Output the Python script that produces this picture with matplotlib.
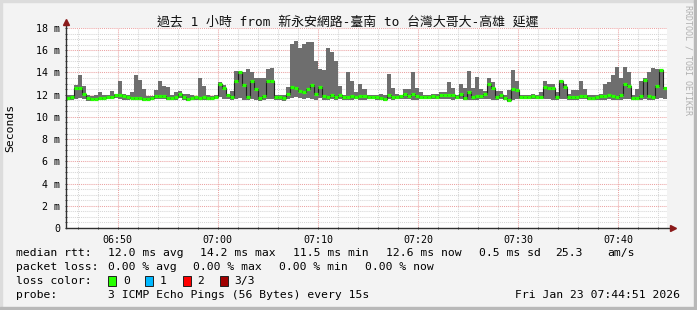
import numpy as np
import matplotlib
matplotlib.use('Agg')
import matplotlib.pyplot as plt
import matplotlib.dates as mdates
from matplotlib.patches import Rectangle
from matplotlib.ticker import MultipleLocator, FuncFormatter

# one sample every 24 s over the last hour, values in ms
start = np.datetime64('2026-01-23T06:44:51')
step = np.timedelta64(24, 's')

median = [11.7, 11.75, 12.6, 12.6, 12.1, 11.7, 11.6, 11.65, 11.7, 11.7,
          11.8, 11.8, 11.95, 12.0, 11.9, 11.75, 11.7, 11.7, 11.7, 11.65,
          11.65, 11.7, 11.9, 11.85, 11.85, 11.7, 11.7, 11.8, 12.1, 11.8,
          11.65, 11.7, 11.75, 11.7, 11.75, 11.7, 11.7, 11.75, 13.0, 12.6,
          12.0, 11.8, 13.2, 14.0, 12.9, 11.8, 13.2, 12.5, 11.7, 11.9,
          13.2, 13.2, 11.8, 11.75, 11.7, 12.1, 12.7, 12.6, 12.3, 12.2,
          12.5, 12.9, 12.1, 12.7, 11.9, 11.75, 12.0, 11.8, 12.0, 11.8,
          11.8, 11.9, 11.8, 11.9, 11.85, 11.8, 11.75, 11.75, 11.7, 11.6,
          11.95, 11.8, 11.75, 11.9, 12.1, 11.9, 12.1, 11.9, 11.8, 11.8,
          11.8, 11.9, 11.8, 11.95, 12.0, 11.95, 12.0, 11.8, 12.1, 11.7,
          12.2, 11.8, 11.9, 11.85, 12.1, 13.0, 12.6, 11.8, 11.95, 11.7,
          11.5, 12.5, 12.4, 11.8, 11.8, 11.8, 11.9, 11.8, 11.8, 12.7,
          12.6, 12.6, 11.8, 13.2, 12.7, 11.8, 11.75, 11.8, 11.9, 11.9,
          11.7, 11.7, 11.75, 11.85, 11.85, 11.95, 11.9, 11.8, 12.0, 13.0,
          12.8, 11.7, 11.7, 11.9, 13.3, 11.9, 11.8, 12.8, 14.2, 12.6]

smoke_lo = [11.5, 11.55, 11.6, 11.7, 11.6, 11.4, 11.4, 11.5, 11.5, 11.5,
            11.6, 11.6, 11.7, 11.6, 11.5, 11.5, 11.6, 11.5, 11.5, 11.4,
            11.5, 11.5, 11.6, 11.6, 11.6, 11.5, 11.5, 11.5, 11.7, 11.5,
            11.4, 11.5, 11.55, 11.5, 11.5, 11.55, 11.5, 11.6, 11.8, 11.6,
            11.6, 11.5, 11.6, 11.7, 11.5, 11.5, 11.6, 11.5, 11.4, 11.5,
            11.6, 11.6, 11.5, 11.5, 11.4, 11.6, 11.7, 11.8, 11.7, 11.6,
            11.7, 11.6, 11.5, 11.7, 11.5, 11.5, 11.6, 11.5, 11.6, 11.5,
            11.5, 11.5, 11.6, 11.5, 11.5, 11.6, 11.6, 11.5, 11.5, 11.4,
            11.6, 11.5, 11.6, 11.6, 11.6, 11.6, 11.5, 11.5, 11.6, 11.6,
            11.6, 11.6, 11.6, 11.6, 11.6, 11.6, 11.5, 11.6, 11.6, 11.5,
            11.5, 11.5, 11.5, 11.6, 11.6, 11.6, 11.5, 11.5, 11.6, 11.5,
            11.3, 11.5, 11.6, 11.6, 11.6, 11.6, 11.6, 11.6, 11.6, 11.6,
            11.6, 11.5, 11.5, 11.6, 11.6, 11.5, 11.5, 11.5, 11.6, 11.6,
            11.5, 11.5, 11.5, 11.5, 11.5, 11.6, 11.5, 11.5, 11.5, 11.6,
            11.6, 11.5, 11.5, 11.5, 11.6, 11.5, 11.5, 11.6, 11.7, 11.6]

smoke_hi = [12.0, 11.95, 12.9, 13.8, 12.8, 12.0, 11.9, 12.0, 12.2, 12.0,
            12.0, 12.3, 12.1, 13.2, 12.1, 12.0, 12.2, 13.8, 13.3, 12.5,
            11.9, 11.9, 12.4, 13.2, 12.8, 12.7, 12.0, 12.2, 12.3, 12.1,
            12.1, 12.0, 11.9, 13.5, 12.8, 12.0, 11.9, 12.0, 13.1, 12.9,
            12.1, 12.3, 14.1, 14.1, 14.0, 14.3, 14.0, 13.5, 13.5, 13.5,
            14.3, 14.4, 12.0, 12.0, 12.0, 12.7, 16.6, 16.8, 16.2, 16.6,
            16.7, 16.7, 15.0, 14.3, 14.2, 16.2, 15.8, 15.0, 12.8, 12.0,
            14.0, 13.2, 12.2, 13.0, 12.5, 12.0, 11.95, 12.0, 12.1, 12.0,
            13.9, 12.6, 12.1, 12.0, 12.5, 12.5, 14.0, 12.6, 12.2, 12.0,
            12.0, 12.1, 12.1, 12.2, 12.2, 13.1, 12.6, 12.0, 13.0, 12.6,
            14.1, 12.6, 13.6, 12.5, 12.3, 13.5, 13.1, 12.3, 12.3, 12.0,
            12.4, 14.2, 13.2, 12.0, 11.95, 12.0, 12.1, 12.0, 12.2, 13.2,
            13.0, 13.0, 12.2, 13.3, 13.0, 12.1, 12.4, 12.4, 13.2, 12.5,
            12.0, 12.0, 12.0, 12.1, 13.0, 13.1, 13.8, 14.5, 13.5, 14.5,
            14.0, 12.0, 12.5, 13.2, 13.5, 14.0, 14.4, 14.3, 14.3, 12.7]

loss_labels = ['0', '1', '2', '3/3']
loss_colors = ['#26ff00', '#00b8ff', '#ff0000', '#a00000']

title = '過去 1 小時 from 新永安網路-臺南 to 台灣大哥大-高雄 延遲'
rtt_stats = ['12.0 ms avg', '14.2 ms max', '11.5 ms min', '12.6 ms now', '0.5 ms sd', '25.3', 'am/s']
loss_stats = ['0.00 % avg', '0.00 % max', '0.00 % min', '0.00 % now']
probe_text = '3 ICMP Echo Pings (56 Bytes) every 15s'
stamp = 'Fri Jan 23 07:44:51 2026'

plt.rcParams['font.family'] = ['DejaVu Sans Mono', 'Noto Sans CJK TC']

W, H = 697, 310
fig = plt.figure(figsize=(W / 100, H / 100), dpi=100, facecolor='#f3f3f3')


def px(x, y):
    # pixel position (from top-left) -> figure fraction
    return x / W, 1 - y / H


# frame shading like rrdtool
fig.add_artist(Rectangle((0, 0), 2 / W, 1, transform=fig.transFigure, color='#dcdcdc', zorder=0))
fig.add_artist(Rectangle((0, 1 - 2 / H), 1, 2 / H, transform=fig.transFigure, color='#dcdcdc', zorder=0))
fig.add_artist(Rectangle((1 - 3 / W, 0), 3 / W, 1, transform=fig.transFigure, color='#b8b8b8', zorder=0))
fig.add_artist(Rectangle((0, 0), 1, 3 / H, transform=fig.transFigure, color='#b8b8b8', zorder=0))

ax = fig.add_axes([66 / W, 82 / H, 601 / W, 200 / H])
ax.set_facecolor('white')

n = len(median)
edges = start + step * np.arange(n + 1)
x = mdates.date2num(edges.astype('datetime64[s]').astype(object))

# smoke (min..max of the pings)
lo = list(smoke_lo) + [smoke_lo[-1]]
hi = list(smoke_hi) + [smoke_hi[-1]]
ax.fill_between(x, lo, hi, step='post', color='#6e6e6e', lw=0, zorder=2)

# median: thin dark step line + thick loss-coloured segments
ax.step(x, list(median) + [median[-1]], where='post', color='#202020', lw=0.8, zorder=3)
ax.hlines(median, x[:-1], x[1:], color=loss_colors[0], lw=2.3, zorder=4)

ax.set_xlim(x[0], x[-1])
ax.set_ylim(0, 18)

ax.xaxis.set_major_locator(mdates.MinuteLocator(byminute=range(0, 60, 10)))
ax.xaxis.set_minor_locator(mdates.MinuteLocator(byminute=range(0, 60, 2)))
ax.xaxis.set_major_formatter(mdates.DateFormatter('%H:%M'))
ax.yaxis.set_major_locator(MultipleLocator(2))
ax.yaxis.set_minor_locator(MultipleLocator(0.5))
ax.yaxis.set_major_formatter(FuncFormatter(lambda v, p: f'{v:g} m' if v else '0'))

ax.set_axisbelow(True)
ax.grid(which='major', color='#eba3a3', ls=(0, (1, 1)), lw=0.75)
ax.grid(which='minor', color='#d6d6d6', ls=(0, (1, 1)), lw=0.75)

for s in ax.spines.values():
    s.set_visible(False)
ax.tick_params(which='both', length=2, width=0.7, color='#404040', direction='inout', labelsize=7.2)
ax.tick_params(axis='x', pad=4)
ax.tick_params(axis='y', pad=3)

# axes with arrows
ax.plot([0, 1.01], [0, 0], transform=ax.transAxes, clip_on=False, color='#303030', lw=1, zorder=5)
ax.plot([0, 0], [0, 1.03], transform=ax.transAxes, clip_on=False, color='#303030', lw=1, zorder=5)
ax.plot(1.01, 0, marker='>', ms=4.5, color='#8b1a1a', transform=ax.transAxes, clip_on=False, zorder=6)
ax.plot(0, 1.03, marker='^', ms=4.5, color='#8b1a1a', transform=ax.transAxes, clip_on=False, zorder=6)

fig.text(*px(348, 22), title, ha='center', va='center', fontsize=9.3, color='#101010')
fig.text(*px(10, 128), 'Seconds', rotation=90, ha='center', va='center', fontsize=8.2)
fig.text(*px(688, 60), 'RRDTOOL / TOBI OETIKER', rotation=270, ha='center', va='center',
         fontsize=6, color='#b0b0b0')

fs = 8.2
fig.text(*px(16, 253), 'median rtt:', va='center', fontsize=fs)
for xp, s in zip([107.6, 199.6, 293, 386, 479, 555, 607], rtt_stats):
    fig.text(*px(xp, 253), s, va='center', fontsize=fs)

fig.text(*px(16, 267), 'packet loss:', va='center', fontsize=fs)
for xp, s in zip([107.6, 193, 279, 365], loss_stats):
    fig.text(*px(xp, 267), s, va='center', fontsize=fs)

fig.text(*px(16, 281), 'loss color:', va='center', fontsize=fs)
for xp, lab, col in zip([108.4, 145, 183, 220], loss_labels, loss_colors):
    fig.add_artist(Rectangle((xp / W, 1 - 286 / H), 8 / W, 10 / H, transform=fig.transFigure,
                             facecolor=col, edgecolor='#202020', lw=0.7))
    fig.text(*px(xp + 14.5, 281), lab, va='center', fontsize=fs)

fig.text(*px(16, 295), 'probe:', va='center', fontsize=fs)
fig.text(*px(107.6, 295), probe_text, va='center', fontsize=fs)
fig.text(*px(680, 295), stamp, ha='right', va='center', fontsize=fs)

fig.savefig('out.png', dpi=100, facecolor=fig.get_facecolor())
